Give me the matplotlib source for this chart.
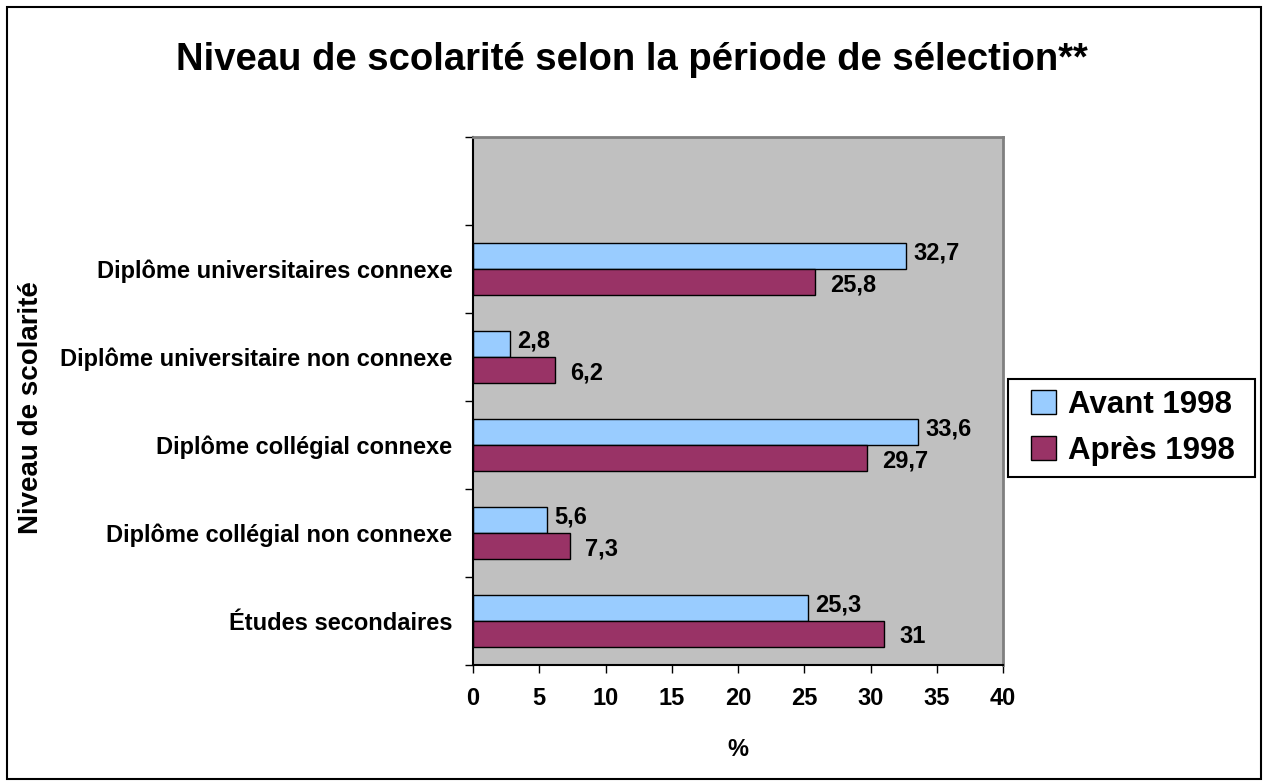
import matplotlib.pyplot as plt
import numpy as np

plt.rcParams['font.family'] = ['Liberation Sans', 'DejaVu Sans']
plt.rcParams['font.weight'] = 'bold'

categories = ['Études secondaires', 'Diplôme collégial non connexe', 'Diplôme collégial connexe',
              'Diplôme universitaire non connexe', 'Diplôme universitaires connexe', '']
avant = [25.3, 5.6, 33.6, 2.8, 32.7, None]
apres = [31, 7.3, 29.7, 6.2, 25.8, None]
series_names = ['Avant 1998', 'Après 1998']
colors = ['#99ccff', '#993366']

fig = plt.figure(figsize=(12.64, 7.81), dpi=100)
ax = fig.add_axes([473 / 1264, 1 - 665 / 781, 530 / 1264, 528 / 781])
ax.set_facecolor('#c0c0c0')

y = np.arange(len(categories))
h = 0.29
idx = [i for i in range(len(categories)) if avant[i] is not None]
b1 = ax.barh(y[idx] + h / 2, [avant[i] for i in idx], height=h, color=colors[0],
             edgecolor='black', linewidth=1, label=series_names[0])
b2 = ax.barh(y[idx] - h / 2, [apres[i] for i in idx], height=h, color=colors[1],
             edgecolor='black', linewidth=1, label=series_names[1])

def fmt(v):
    return ('%g' % v).replace('.', ',')

for i in idx:
    ax.annotate(fmt(avant[i]), (avant[i], y[i] + h / 2), xytext=(5, 2), textcoords='offset points',
                va='center', ha='left', fontsize=17, fontweight='bold')
    ax.annotate(fmt(apres[i]), (apres[i], y[i] - h / 2), xytext=(11, -2), textcoords='offset points',
                va='center', ha='left', fontsize=17, fontweight='bold')

ax.set_xlim(0, 40)
ax.set_ylim(-0.5, len(categories) - 0.5)
ax.set_xticks(np.arange(0, 41, 5))
ax.set_yticks(np.arange(-0.5, len(categories), 1))
ax.set_yticklabels([])
ax.set_yticks(y, minor=True)
ax.set_yticklabels(categories, minor=True)
ax.tick_params(axis='y', which='minor', length=0, pad=15, labelsize=17)
ax.tick_params(axis='y', which='major', length=6, direction='out', width=1)
ax.tick_params(axis='x', length=6, direction='out', width=1, labelsize=17, pad=10)
for lbl in ax.get_xticklabels() + ax.get_yticklabels(minor=True):
    lbl.set_fontweight('bold')

for s in ['top', 'right']:
    ax.spines[s].set_color('#808080')
    ax.spines[s].set_linewidth(2)
for s in ['left', 'bottom']:
    ax.spines[s].set_color('black')
    ax.spines[s].set_linewidth(1.5)

ax.set_xlabel('%', fontsize=17, fontweight='bold', labelpad=20)
ax.set_ylabel('Niveau de scolarité', fontsize=20, fontweight='bold')
ax.yaxis.set_label_coords(-(473 - 44) / 530, (665 - 408) / 528)

fig.text(0.5, 1 - 60 / 781, 'Niveau de scolarité selon la période de sélection**',
         ha='center', va='center', fontsize=27.5, fontweight='bold')

# legend: entries without frame, box drawn separately (Excel-style wide padding)
leg = fig.legend(handles=[b1, b2], loc='center left', bbox_to_anchor=(1031 / 1264, 1 - 428 / 781),
                 fontsize=22.5, frameon=False, handlelength=0.8, handleheight=0.8,
                 handletextpad=0.4, borderpad=0, labelspacing=0.5, borderaxespad=0)
for t in leg.get_texts():
    t.set_fontweight('bold')
fig.patches.append(plt.Rectangle((1008 / 1264, 1 - 477 / 781), 247 / 1264, 98 / 781,
                                 transform=fig.transFigure, facecolor='white',
                                 edgecolor='black', linewidth=1.5, zorder=0))

fig.patches.append(plt.Rectangle((7 / 1264, 2 / 781), 1254 / 1264, 772 / 781, transform=fig.transFigure,
                                 fill=False, edgecolor='black', linewidth=1.5))

fig.savefig('out.png', dpi=100)
